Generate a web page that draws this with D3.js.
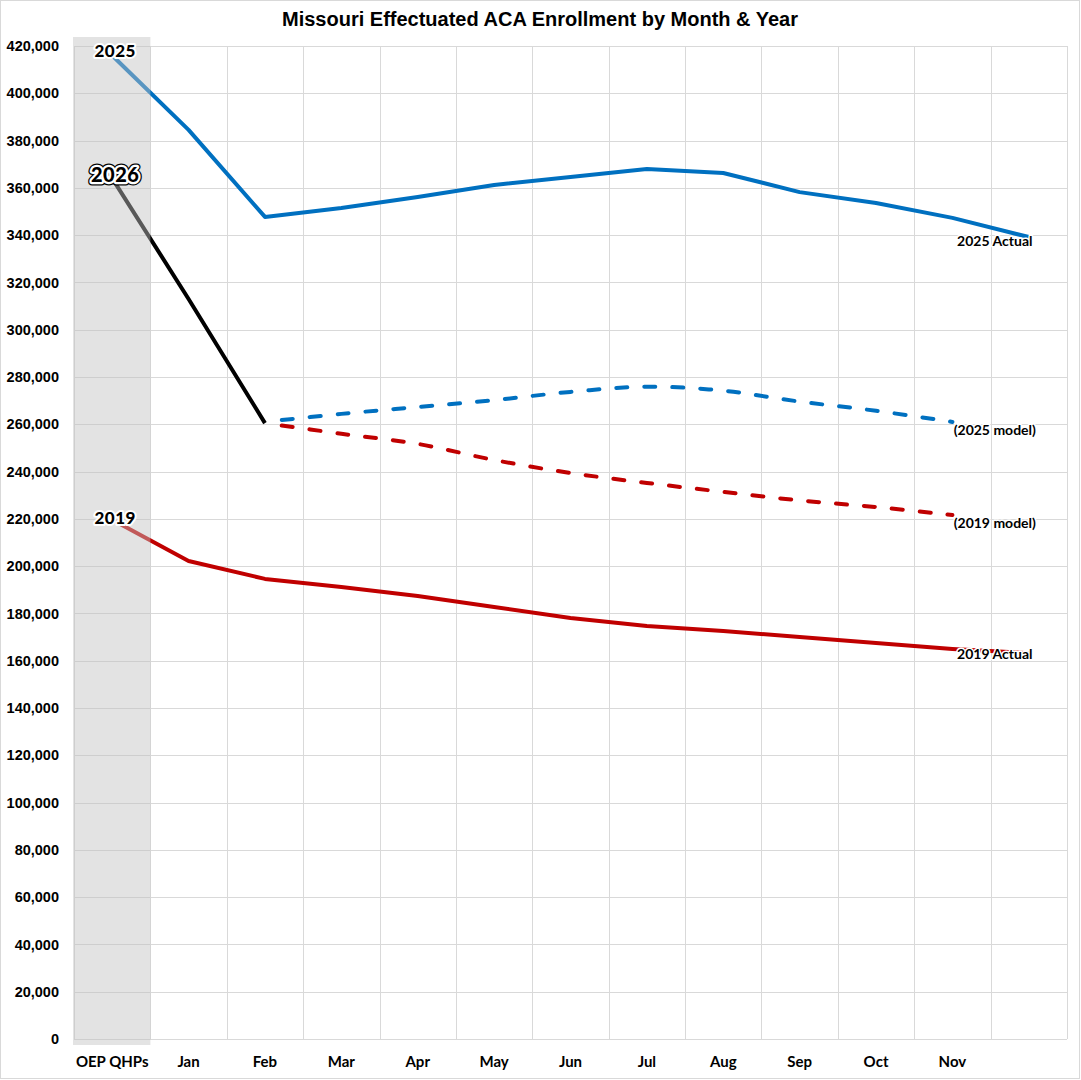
<!DOCTYPE html>
<html>
<head>
<meta charset="utf-8">
<script src="https://cdn.jsdelivr.net/npm/d3@7"></script>
<style>
  body { margin: 0; background: #fff; }
</style>
</head>
<body>
<div id="chart"></div>
<script>
// categories (last one has no label on the axis)
var months = ["OEP QHPs", "Jan", "Feb", "Mar", "Apr", "May", "Jun", "Jul", "Aug", "Sep", "Oct", "Nov", "Dec"];
var monthLabels = ["OEP QHPs", "Jan", "Feb", "Mar", "Apr", "May", "Jun", "Jul", "Aug", "Sep", "Oct", "Nov", ""];

// series values (null = no value)
var actual2025 = [416000, 384500, 347700, 351500, 356100, 361200, 364600, 368000, 366300, 358200, 353600, 347300, 339200];
var actual2026 = [364000, 313000, 260500, null, null, null, null, null, null, null, null, null, null];
var model2025 = [null, null, 261000, 264400, 267300, 270200, 273700, 275900, 274200, 269600, 265700, 261000, null];
var model2019 = [null, null, 260500, 256000, 251700, 244900, 239400, 235200, 231400, 227800, 225000, 221600, null];
var actual2019 = [219600, 202200, 194600, 191200, 187400, 182700, 178100, 174700, 172600, 170000, 167500, 165000, 163200];

var yTicks = d3.range(0, 420001, 20000);

// set the dimensions of the graph
var W = 1081, H = 1080;
var plot = {left: 74, right: 1067, top: 46, bottom: 1039};

var svg = d3.select("#chart")
    .append("svg")
    .attr("width", W)
    .attr("height", H);

// outer frame
svg.append("rect")
    .attr("x", 0.5).attr("y", 0.5)
    .attr("width", W - 2).attr("height", H - 2)
    .attr("fill", "#fff")
    .attr("stroke", "#d9d9d9");

// title
svg.append("text")
    .attr("x", 540)
    .attr("y", 26)
    .attr("text-anchor", "middle")
    .style("font-family", "'Liberation Sans', Arial, sans-serif")
    .style("font-weight", "bold")
    .style("font-size", "20px")
    .text("Missouri Effectuated ACA Enrollment by Month & Year");

// scales
var x = d3.scaleBand()
    .domain(months)
    .range([plot.left, plot.right]);

var y = d3.scaleLinear()
    .domain([0, 420000])
    .range([plot.bottom, plot.top]);

function cx(m) { return x(m) + x.bandwidth() / 2; }

// horizontal gridlines
svg.append("g")
    .selectAll("line")
    .data(yTicks)
    .enter()
    .append("line")
    .attr("x1", plot.left)
    .attr("x2", plot.right)
    .attr("y1", function(d) { return Math.round(y(d)) + 0.5; })
    .attr("y2", function(d) { return Math.round(y(d)) + 0.5; })
    .attr("stroke", "#d9d9d9");

// vertical gridlines (band edges)
svg.append("g")
    .selectAll("line")
    .data(months.concat(["end"]))
    .enter()
    .append("line")
    .attr("x1", function(d, i) { return Math.round(plot.left + i * x.bandwidth()) + 0.5; })
    .attr("x2", function(d, i) { return Math.round(plot.left + i * x.bandwidth()) + 0.5; })
    .attr("y1", plot.top)
    .attr("y2", plot.bottom)
    .attr("stroke", "#d9d9d9");

// Y axis
var yAxis = svg.append("g")
    .attr("transform", "translate(" + (plot.left - 15) + ",0)")
    .call(d3.axisLeft(y).tickValues(yTicks).tickFormat(d3.format(",")).tickSize(0).tickPadding(0));
yAxis.select(".domain").remove();
yAxis.selectAll("text")
    .style("font-family", "'Liberation Sans', Arial, sans-serif")
    .style("font-weight", "bold")
    .style("font-size", "14.5px")
    .attr("fill", "#000");

// X axis
var xAxis = svg.append("g")
    .attr("transform", "translate(0," + plot.bottom + ")")
    .call(d3.axisBottom(x).tickFormat(function(d, i) { return monthLabels[i]; }).tickSize(0).tickPadding(0));
xAxis.select(".domain").remove();
xAxis.selectAll("text")
    .attr("dy", null)
    .attr("y", 28)
    .style("font-family", "Lato, 'Open Sans', sans-serif")
    .style("font-weight", "bold")
    .style("font-size", "15px")
    .attr("fill", "#000");

// lines
function lineFor(curve) {
    return d3.line()
        .defined(function(d) { return d !== null; })
        .x(function(d, i) { return cx(months[i]); })
        .y(function(d) { return y(d); })
        .curve(curve);
}

var series = [
    {values: model2025, color: "#0070c0", dash: "11,17", curve: d3.curveCatmullRom},
    {values: model2019, color: "#c00000", dash: "11,17", curve: d3.curveCatmullRom},
    {values: actual2019, color: "#c00000", dash: null, curve: d3.curveLinear},
    {values: actual2025, color: "#0070c0", dash: null, curve: d3.curveLinear},
    {values: actual2026, color: "#000000", dash: null, curve: d3.curveLinear}
];

svg.append("g")
    .selectAll("path")
    .data(series)
    .enter()
    .append("path")
    .attr("d", function(s) { return lineFor(s.curve)(s.values); })
    .attr("fill", "none")
    .attr("stroke", function(s) { return s.color; })
    .attr("stroke-width", 4)
    .attr("stroke-linecap", function(s) { return s.dash ? "round" : "butt"; })
    .attr("stroke-linejoin", "round")
    .attr("stroke-dasharray", function(s) { return s.dash; })
    .attr("stroke-dashoffset", function(s) { return s.dash ? -17 : null; });

// grey shaded OEP column, drawn over the lines
svg.append("rect")
    .attr("x", x("OEP QHPs") - 1)
    .attr("y", plot.top - 9)
    .attr("width", x.bandwidth() + 1)
    .attr("height", plot.bottom - plot.top + 15)
    .attr("fill", "rgb(194,194,194)")
    .attr("fill-opacity", 0.46);

// year labels at the start of each line
function haloText(txt, px, py, size) {
    return svg.append("text")
        .attr("x", px)
        .attr("y", py)
        .attr("text-anchor", "middle")
        .style("font-family", "Lato, 'Open Sans', sans-serif")
        .style("font-weight", "900")
        .style("font-size", size + "px")
        .style("letter-spacing", "0.5px")
        .attr("paint-order", "stroke")
        .text(txt);
}

var x0 = cx("OEP QHPs") + 3;
haloText("2025", x0, y(actual2025[0]) + 2, 17)
    .attr("stroke", "#fff").attr("stroke-width", 4).attr("stroke-linejoin", "round");
haloText("2019", x0, y(actual2019[0]) + 4, 17)
    .attr("stroke", "#fff").attr("stroke-width", 4).attr("stroke-linejoin", "round");
// 2026 gets a white outline with a thin black edge
haloText("2026", x0, y(actual2026[0]) + 4, 20)
    .attr("stroke", "#000").attr("stroke-width", 7).attr("stroke-linejoin", "round");
haloText("2026", x0, y(actual2026[0]) + 4, 20)
    .attr("stroke", "#fff").attr("stroke-width", 4.5).attr("stroke-linejoin", "round");

// series labels at the right end
var endLabels = [
    {text: "2025 Actual", value: actual2025[12], dy: 9},
    {text: "(2025 model)", value: model2025[11], dy: 13},
    {text: "(2019 model)", value: model2019[11], dy: 13},
    {text: "2019 Actual", value: actual2019[12], dy: 6}
];

svg.append("g")
    .selectAll("text")
    .data(endLabels)
    .enter()
    .append("text")
    .attr("x", cx("Dec") - 34)
    .attr("y", function(d) { return y(d.value) + d.dy; })
    .attr("text-anchor", "middle")
    .style("font-family", "Lato, 'Open Sans', sans-serif")
    .style("font-weight", "bold")
    .style("font-size", "14px")
    .attr("stroke", "#fff")
    .attr("stroke-width", 3)
    .attr("stroke-linejoin", "round")
    .attr("paint-order", "stroke")
    .text(function(d) { return d.text; });
</script>
</body>
</html>
